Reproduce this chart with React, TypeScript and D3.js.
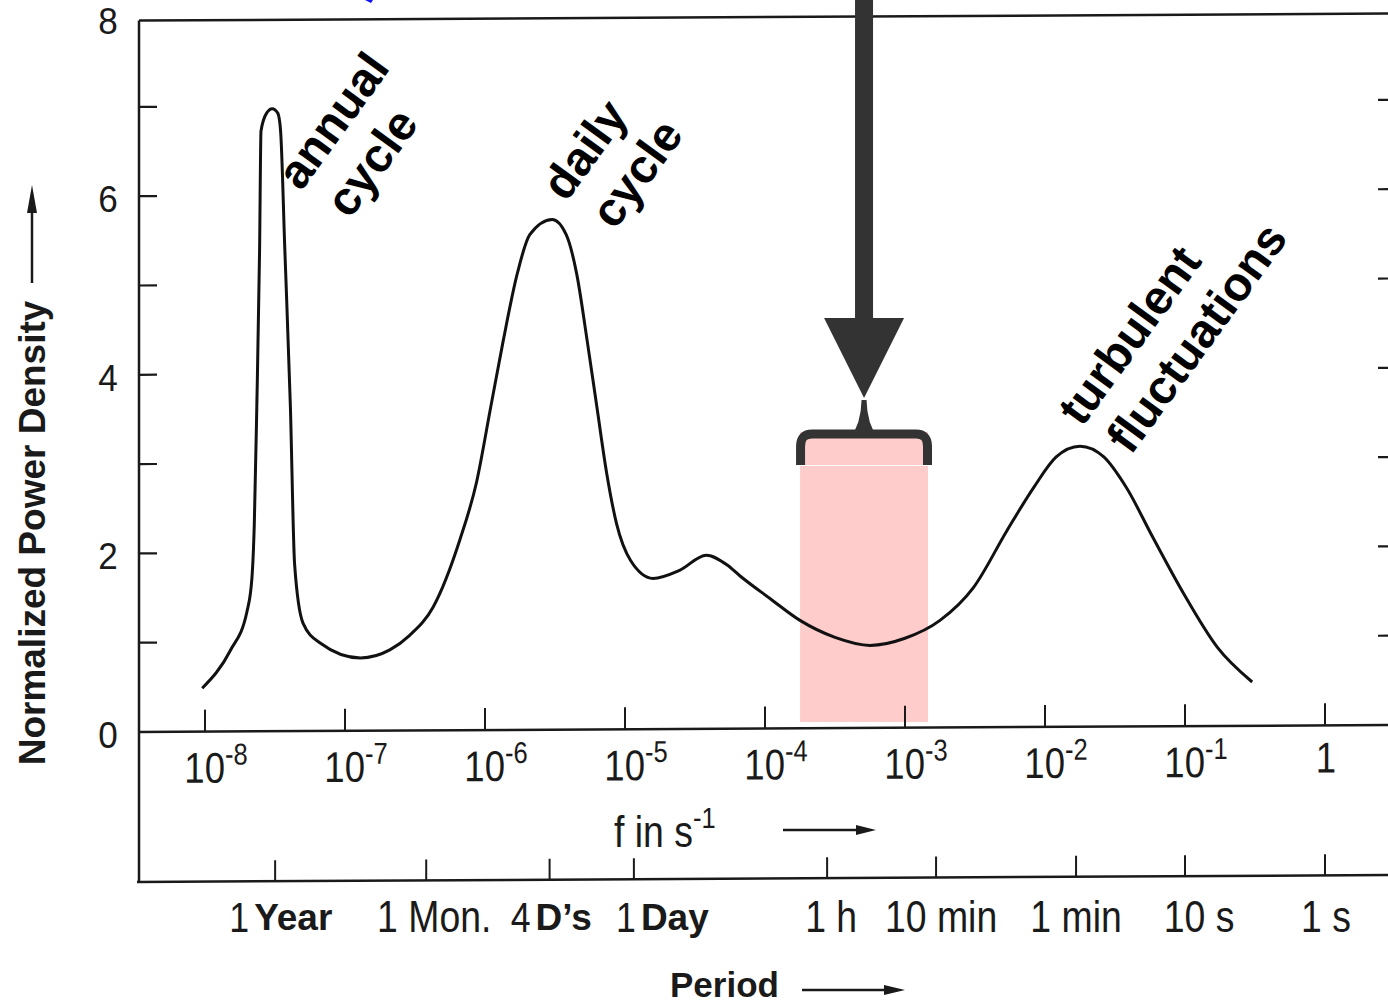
import React from 'react';
import * as d3 from 'd3';

// spectrum: log10 of frequency (s^-1) and normalized power density
const logFreq = [
  -8.02, -7.82, -7.7, -7.665, -7.648, -7.63, -7.61, -7.6, -7.56, -7.52, -7.48, -7.46,
  -7.43, -7.39, -7.36, -7.3, -7.18, -6.89, -6.68, -6.54, -6.37, -6.18, -6.06, -5.96,
  -5.87, -5.77, -5.68, -5.52, -5.42, -5.345, -5.27, -5.2, -5.13, -5.06, -4.96, -4.8,
  -4.61, -4.42, -4.27, -4.18, -3.96, -3.75, -3.5, -3.25, -3.0, -2.75, -2.51, -2.27,
  -2.08, -1.92, -1.75, -1.58, -1.42, -1.23, -1.01, -0.77, -0.52,
];
const power = [
  0.49, 0.91, 1.35, 1.72, 2.32, 3.64, 5.41, 6.73, 6.93, 6.98, 6.93, 6.73,
  5.41, 3.64, 1.88, 1.22, 1.0, 0.83, 0.92, 1.08, 1.4, 2.15, 2.8, 3.63,
  4.38, 5.13, 5.57, 5.74, 5.57, 5.13, 4.38, 3.63, 2.89, 2.33, 1.92, 1.72,
  1.81, 1.98, 1.87, 1.75, 1.49, 1.25, 1.06, 0.97, 1.05, 1.25, 1.62, 2.26,
  2.74, 3.08, 3.2, 3.08, 2.74, 2.18, 1.55, 0.95, 0.56,
];

const freqExponents = [-8, -7, -6, -5, -4, -3, -2, -1, 0];
const yLabelValues = [0, 2, 4, 6, 8];
const yTickValues = [1, 2, 3, 4, 5, 6, 7];

const periodSeconds = [31557600, 2629800, 345600, 86400, 3600, 600, 60, 10, 1];
const periodPlain = ['1', '1 Mon.', '4', '1', '1 h', '10 min', '1 min', '10 s', '1 s'];
const periodBold = ['Year', '', 'D\u2019s', 'Day', '', '', '', '', ''];

// highlighted band (the spectral gap), frequency in s^-1
const gapBand = [1.78e-4, 1.46e-3];

const annotations = [
  ['annual', 'cycle'],
  ['daily', 'cycle'],
  ['turbulent', 'fluctuations'],
];

const W = 1388;
const H = 1003;
const NARROW = 0.85;
const ink = '#1a1a1a';
const sans = "'Liberation Sans', Arial, sans-serif";

// condensed text: the scan uses a narrow Helvetica, emulate by squeezing horizontally
function Narrow({ x, y, size, anchor = 'middle', squeeze = NARROW, children }: any) {
  return (
    <g transform={`translate(${x},${y}) scale(${squeeze},1)`}>
      <text x={0} y={0} fontFamily={sans} fontSize={size} textAnchor={anchor} fill={ink}>
        {children}
      </text>
    </g>
  );
}

export default function App() {
  const x = d3.scaleLog().domain([1e-8, 1]).range([205, 1325]);
  const y = d3.scaleLinear().domain([0, 8]).range([732, 17.6]);

  const pts = logFreq.map((lf, i) => [Math.pow(10, lf), power[i]] as [number, number]);
  const line = d3
    .line<[number, number]>()
    .x((d) => x(d[0]))
    .y((d) => y(d[1]))
    .curve(d3.curveMonotoneX);

  const left = 139;
  const axisY = y(0);
  const bottomY = 882;
  const skew = 7 / 1249; // the scan is slightly tilted

  // label placement relative to the ticks
  const periodNudge = [0, 8, 0, 0, 4, 5, 0, 14, 1];
  const splitAt = [-24, 0, -17, 4, 0, 0, 0, 0, 0];
  const annPos = [
    [301, 192],
    [566, 203],
    [1082, 428],
  ];

  const bx0 = x(gapBand[0]);
  const bx1 = x(gapBand[1]);
  const cx = (bx0 + bx1) / 2;

  return (
    <svg
      width={W}
      height={H}
      style={{ position: 'absolute', left: 0, top: 0, background: '#fff', display: 'block' }}
    >
      <rect x={0} y={0} width={W} height={H} fill="#fff" />

      {/* pink band */}
      <rect x={bx0} y={432} width={bx1 - bx0} height={33} fill="#ffcccc" />
      <rect x={bx0} y={466} width={bx1 - bx0} height={722 - 466} fill="#ffcccc" />

      {/* frame & axes */}
      <g transform={`matrix(1,${-skew},0,1,0,${left * skew})`}>
        <g stroke={ink} fill="none">
          <line x1={left} y1={y(8) + 3} x2={W} y2={y(8) + 3} strokeWidth={2.5} />
          <line x1={left} y1={y(8) + 3} x2={left} y2={bottomY} strokeWidth={2.5} />
          <line x1={left} y1={axisY} x2={W} y2={axisY} strokeWidth={2.5} />
          <line x1={left - 2} y1={bottomY} x2={W} y2={bottomY} strokeWidth={2.5} />
          {yTickValues.map((v) => (
            <g key={v}>
              <line x1={left} y1={y(v)} x2={left + 18} y2={y(v)} strokeWidth={2.2} />
              <line x1={W - 10} y1={y(v)} x2={W} y2={y(v)} strokeWidth={2.2} />
            </g>
          ))}
          {freqExponents.map((e) => (
            <line key={e} x1={x(Math.pow(10, e))} y1={axisY} x2={x(Math.pow(10, e))} y2={axisY - 22} strokeWidth={2} />
          ))}
          {periodSeconds.map((s) => (
            <line key={s} x1={x(1 / s)} y1={bottomY} x2={x(1 / s)} y2={bottomY - 21} strokeWidth={2} />
          ))}
        </g>
        {freqExponents.map((e) =>
          e === 0 ? (
            <Narrow key={e} x={x(1) + 1} y={axisY + 47} size={43}>
              1
            </Narrow>
          ) : (
            <Narrow key={e} x={x(Math.pow(10, e)) + 11} y={axisY + 51} size={43}>
              10
              <tspan dy={-18} fontSize={30}>
                {'-' + Math.abs(e)}
              </tspan>
            </Narrow>
          )
        )}
      </g>

      {/* y tick labels */}
      {yLabelValues.map((v) => (
        <Narrow key={v} x={108} y={y(v) + 16} size={37} squeeze={0.95}>
          {v}
        </Narrow>
      ))}

      {/* period labels */}
      {periodSeconds.map((s, i) =>
        periodBold[i] ? (
          <g key={s}>
            <Narrow x={x(1 / s) + splitAt[i] - 2} y={932} size={42} anchor="end">
              {periodPlain[i]}
            </Narrow>
            <text
              x={x(1 / s) + splitAt[i] + 3}
              y={930}
              fontFamily={sans}
              fontWeight="bold"
              fontSize={37}
              fill={ink}
            >
              {periodBold[i]}
            </text>
          </g>
        ) : (
          <Narrow key={s} x={x(1 / s) + periodNudge[i]} y={932} size={44}>
            {periodPlain[i]}
          </Narrow>
        )
      )}

      {/* axis titles */}
      <Narrow x={614} y={847} size={44} anchor="start">
        f in s
        <tspan dy={-19} fontSize={30}>
          -1
        </tspan>
      </Narrow>
      <line x1={783} y1={830} x2={860} y2={830} stroke={ink} strokeWidth={2.5} />
      <polygon points="856,825 876,830 856,835" fill={ink} />

      <text x={670} y={997} fill={ink} fontFamily={sans} fontWeight="bold" fontSize={35}>
        Period
      </text>
      <line x1={802} y1={990} x2={888} y2={990} stroke={ink} strokeWidth={2.5} />
      <polygon points="884,985 905,990 884,995" fill={ink} />

      <text
        transform="translate(45,533) rotate(-90)"
        textAnchor="middle"
        fill={ink}
        fontFamily={sans}
        fontWeight="bold"
        fontSize={37}
      >
        Normalized Power Density
      </text>
      <line x1={32} y1={283} x2={32} y2={210} stroke={ink} strokeWidth={2.5} />
      <polygon points="27,213 32,185 37,213" fill={ink} />

      {/* spectrum */}
      <path d={line(pts) ?? ''} fill="none" stroke="#111" strokeWidth={3} strokeLinejoin="round" />

      {/* annotations */}
      {annotations.map((lines, i) => (
        <text
          key={i}
          transform={`translate(${annPos[i][0]},${annPos[i][1]}) rotate(-54)`}
          fill="#000"
          fontFamily={sans}
          fontWeight="bold"
          fontSize={47.5}
        >
          <tspan x={0} y={0}>
            {lines[0]}
          </tspan>
          <tspan x={6} y={56}>
            {lines[1]}
          </tspan>
        </text>
      ))}

      {/* brace and arrow over the gap */}
      <g fill="#333">
        <path
          d={`M${bx0 + 0.5},465 L${bx0 + 0.5},446 Q${bx0 + 0.5},434 ${bx0 + 12},434 L${bx1 - 12},434 Q${bx1 - 0.5},434 ${bx1 - 0.5},446 L${bx1 - 0.5},465`}
          fill="none"
          stroke="#333"
          strokeWidth={9}
        />
        <path d={`M${cx - 2.5},400 Q${cx - 3},424 ${cx - 14},438 L${cx + 14},438 Q${cx + 3},424 ${cx + 2.5},400 Z`} />
        <rect x={cx - 9} y={0} width={18} height={320} />
        <polygon points={`${cx - 40},318 ${cx + 40},318 ${cx},398`} />
      </g>
      <polygon points="365,0 373,0 371,3" fill="#1010ff" />
    </svg>
  );
}
